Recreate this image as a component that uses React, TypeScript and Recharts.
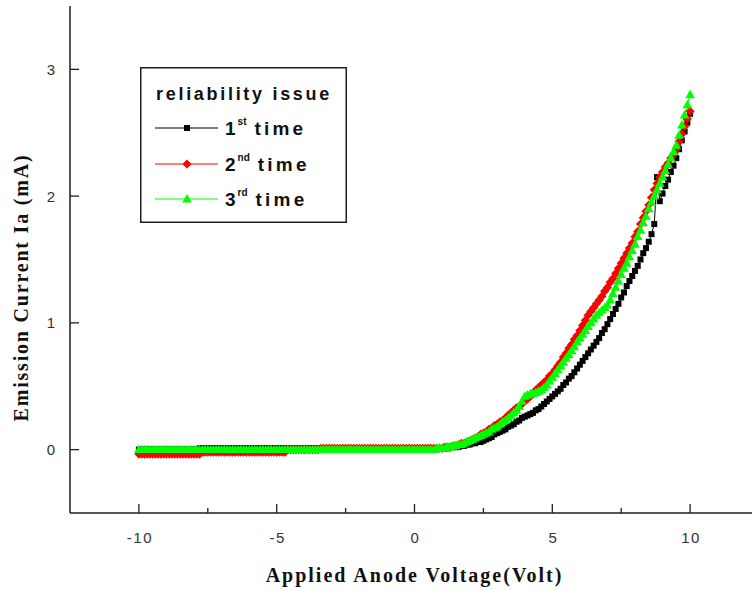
import React from 'react';
import { LineChart, Line, XAxis, YAxis, Legend } from 'recharts';

// Applied anode voltage sweep (V)
const voltage = [
  -10, -9.9, -9.8, -9.7, -9.6, -9.5, -9.4, -9.3, -9.2, -9.1,
  -9, -8.9, -8.8, -8.7, -8.6, -8.5, -8.4, -8.3, -8.2, -8.1,
  -8, -7.9, -7.8, -7.7, -7.6, -7.5, -7.4, -7.3, -7.2, -7.1,
  -7, -6.9, -6.8, -6.7, -6.6, -6.5, -6.4, -6.3, -6.2, -6.1,
  -6, -5.9, -5.8, -5.7, -5.6, -5.5, -5.4, -5.3, -5.2, -5.1,
  -5, -4.9, -4.8, -4.7, -4.6, -4.5, -4.4, -4.3, -4.2, -4.1,
  -4, -3.9, -3.8, -3.7, -3.6, -3.5, -3.4, -3.3, -3.2, -3.1,
  -3, -2.9, -2.8, -2.7, -2.6, -2.5, -2.4, -2.3, -2.2, -2.1,
  -2, -1.9, -1.8, -1.7, -1.6, -1.5, -1.4, -1.3, -1.2, -1.1,
  -1, -0.9, -0.8, -0.7, -0.6, -0.5, -0.4, -0.3, -0.2, -0.1,
  0, 0.1, 0.2, 0.3, 0.4, 0.5, 0.6, 0.7, 0.8, 0.9,
  1, 1.1, 1.2, 1.3, 1.4, 1.5, 1.6, 1.7, 1.8, 1.9,
  2, 2.1, 2.2, 2.3, 2.4, 2.5, 2.6, 2.7, 2.8, 2.9,
  3, 3.1, 3.2, 3.3, 3.4, 3.5, 3.6, 3.7, 3.8, 3.9,
  4, 4.1, 4.2, 4.3, 4.4, 4.5, 4.6, 4.7, 4.8, 4.9,
  5, 5.1, 5.2, 5.3, 5.4, 5.5, 5.6, 5.7, 5.8, 5.9,
  6, 6.1, 6.2, 6.3, 6.4, 6.5, 6.6, 6.7, 6.8, 6.9,
  7, 7.1, 7.2, 7.3, 7.4, 7.5, 7.6, 7.7, 7.8, 7.9,
  8, 8.1, 8.2, 8.3, 8.4, 8.5, 8.6, 8.7, 8.8, 8.9,
  9, 9.1, 9.2, 9.3, 9.4, 9.5, 9.6, 9.7, 9.8, 9.9,
  10,
];

// Emission current Ia (mA), 1st time
const firstTime = [
  0, 0, 0, 0, 0, 0, 0, 0, 0, 0,
  0, 0, 0, 0, 0, 0, 0, 0, 0, 0,
  0, 0, 0.01, 0.01, 0.01, 0.01, 0.01, 0.01, 0.01, 0.01,
  0.01, 0.01, 0.01, 0.01, 0.01, 0.01, 0.01, 0.01, 0.01, 0.01,
  0.01, 0.01, 0.01, 0.01, 0.01, 0.01, 0.01, 0.01, 0.01, 0.01,
  0.01, 0.01, 0.01, 0.01, 0.01, 0.01, 0.01, 0.01, 0.01, 0.01,
  0.01, 0.01, 0.01, 0.01, 0.01, 0.01, 0.01, 0, 0, 0,
  0, 0, 0, 0, 0, 0, 0, 0, 0, 0,
  0, 0, 0, 0, 0, 0, 0, 0, 0, 0,
  0, 0, 0, 0, 0, 0, 0, 0, 0, 0,
  0, 0, 0, 0, 0, 0, 0, 0, 0.01, 0.01,
  0.01, 0.01, 0.01, 0.02, 0.02, 0.02, 0.02, 0.03, 0.03, 0.04,
  0.04, 0.05, 0.05, 0.06, 0.06, 0.07, 0.08, 0.09, 0.1, 0.12,
  0.13, 0.14, 0.15, 0.16, 0.18, 0.19, 0.2, 0.22, 0.23, 0.25,
  0.26, 0.27, 0.28, 0.29, 0.31, 0.32, 0.34, 0.36, 0.38, 0.4,
  0.42, 0.44, 0.46, 0.48, 0.51, 0.53, 0.56, 0.58, 0.61, 0.64,
  0.67, 0.7, 0.73, 0.76, 0.79, 0.82, 0.85, 0.88, 0.92, 0.95,
  0.99, 1.03, 1.07, 1.11, 1.15, 1.2, 1.24, 1.29, 1.33, 1.37,
  1.41, 1.45, 1.5, 1.55, 1.59, 1.64, 1.7, 1.78, 2.15, 1.96,
  2.02, 2.08, 2.13, 2.19, 2.24, 2.3, 2.37, 2.44, 2.51, 2.58,
  2.65,
];

// Emission current Ia (mA), 2nd time
const secondTime = [
  -0.035, -0.035, -0.035, -0.035, -0.035, -0.035, -0.035, -0.035, -0.035, -0.035,
  -0.035, -0.035, -0.035, -0.035, -0.035, -0.035, -0.035, -0.035, -0.035, -0.035,
  -0.035, -0.035, -0.035, -0.02, -0.02, -0.02, -0.02, -0.02, -0.02, -0.02,
  -0.02, -0.02, -0.02, -0.02, -0.02, -0.02, -0.02, -0.02, -0.02, -0.02,
  -0.02, -0.02, -0.02, -0.02, -0.02, -0.02, -0.02, -0.02, -0.02, -0.02,
  -0.02, -0.02, -0.02, -0.02, 0, 0, 0, 0, 0, 0,
  0, 0, 0, 0, 0, 0, 0.01, 0.01, 0.01, 0.01,
  0.01, 0.01, 0.01, 0.01, 0.01, 0.01, 0.01, 0.01, 0.01, 0.01,
  0.01, 0.01, 0.01, 0.01, 0.01, 0.01, 0.01, 0.01, 0.01, 0.01,
  0.01, 0.01, 0.01, 0.01, 0.01, 0.01, 0.01, 0.01, 0.01, 0.01,
  0.01, 0.01, 0.01, 0.01, 0.01, 0.01, 0.01, 0.01, 0.01, 0.01,
  0.01, 0.02, 0.02, 0.02, 0.03, 0.03, 0.04, 0.05, 0.05, 0.06,
  0.07, 0.08, 0.09, 0.1, 0.12, 0.13, 0.14, 0.16, 0.17, 0.19,
  0.2, 0.22, 0.23, 0.25, 0.27, 0.29, 0.31, 0.33, 0.34, 0.36,
  0.38, 0.4, 0.42, 0.44, 0.47, 0.49, 0.51, 0.53, 0.55, 0.58,
  0.6, 0.63, 0.66, 0.69, 0.73, 0.76, 0.8, 0.83, 0.87, 0.9,
  0.94, 0.98, 1.02, 1.06, 1.09, 1.12, 1.15, 1.18, 1.21, 1.25,
  1.28, 1.32, 1.35, 1.39, 1.43, 1.47, 1.51, 1.55, 1.59, 1.63,
  1.68, 1.72, 1.78, 1.83, 1.88, 1.93, 1.99, 2.05, 2.1, 2.15,
  2.19, 2.23, 2.26, 2.3, 2.33, 2.37, 2.43, 2.49, 2.55, 2.61,
  2.67,
];

// Emission current Ia (mA), 3rd time
const thirdTime = [
  0, 0, 0, 0, 0, 0, 0, 0, 0, 0,
  0, 0, 0, 0, 0, 0, 0, 0, 0, 0,
  0, 0, 0, 0, 0, 0, 0, 0, 0, 0,
  0, 0, 0, 0, 0, 0, 0, 0, 0, 0,
  0, 0, 0, 0, 0, 0, 0, 0, 0, 0,
  0, 0, 0, 0, 0, 0, 0, 0, 0, 0,
  0, 0, 0, 0, 0, 0, 0, 0, 0, 0,
  0, 0, 0, 0, 0, 0, 0, 0, 0, 0,
  0, 0, 0, 0, 0, 0, 0, 0, 0, 0,
  0, 0, 0, 0, 0, 0, 0, 0, 0, 0,
  0, 0, 0, 0, 0, 0, 0, 0, 0.01, 0.01,
  0.01, 0.01, 0.02, 0.02, 0.03, 0.03, 0.04, 0.04, 0.05, 0.06,
  0.07, 0.08, 0.09, 0.1, 0.11, 0.12, 0.13, 0.14, 0.16, 0.17,
  0.18, 0.2, 0.22, 0.23, 0.25, 0.27, 0.29, 0.31, 0.34, 0.38,
  0.42, 0.43, 0.44, 0.44, 0.45, 0.46, 0.47, 0.49, 0.51, 0.54,
  0.57, 0.6, 0.63, 0.66, 0.69, 0.72, 0.75, 0.78, 0.81, 0.85,
  0.88, 0.91, 0.94, 0.97, 1.0, 1.03, 1.06, 1.08, 1.1, 1.12,
  1.14, 1.18, 1.23, 1.28, 1.33, 1.38, 1.43, 1.47, 1.52, 1.57,
  1.62, 1.68, 1.73, 1.79, 1.84, 1.9, 1.95, 2.0, 2.05, 2.1,
  2.15, 2.2, 2.25, 2.3, 2.35, 2.4, 2.48, 2.56, 2.64, 2.72,
  2.8,
];

const xTicks = [-10, -7.5, -5, -2.5, 0, 2.5, 5, 7.5, 10];
const xLabelTicks = [-10, -5, 0, 5, 10];
const yTicks = [0, 1, 2, 3];

const legendTitle = 'reliability issue';
const legendBase = ['1', '2', '3'];
const legendSup = ['st', 'nd', 'rd'];
const legendWord = 'time';
const seriesColors = ['#000000', '#ff0000', '#00ff00'];

const data = voltage.map((v, i) => ({
  v,
  s1: firstTime[i],
  s2: secondTime[i],
  s3: thirdTime[i],
}));

const AXIS = '#1e1e1e';
const TICK_FONT = '"Liberation Sans", Arial, sans-serif';
const TITLE_FONT = '"Liberation Serif", "Times New Roman", serif';

const Square = ({ cx, cy, color }: any) => (
  <rect x={cx - 3} y={cy - 3} width={6} height={6} fill={color} />
);
const Diamond = ({ cx, cy, color }: any) => (
  <polygon points={`${cx},${cy - 4.6} ${cx + 4.6},${cy} ${cx},${cy + 4.6} ${cx - 4.6},${cy}`} fill={color} />
);
const Triangle = ({ cx, cy, color }: any) => (
  <polygon points={`${cx},${cy - 5} ${cx + 4.8},${cy + 3.4} ${cx - 4.8},${cy + 3.4}`} fill={color} />
);
const shapes = [Square, Diamond, Triangle];

const makeDot = (idx: number) => (props: any) => {
  const { cx, cy, index } = props;
  if (cx == null || cy == null) return <g key={`d${idx}-${index}`} />;
  const S = shapes[idx];
  return <S key={`d${idx}-${index}`} cx={cx} cy={cy} color={seriesColors[idx]} />;
};

const XTick = (props: any) => {
  const { x, y, payload } = props;
  const major = xLabelTicks.includes(payload.value);
  return (
    <g>
      <line x1={x} x2={x} y1={y} y2={y - (major ? 9 : 5)} stroke={AXIS} strokeWidth={1.3} />
      {major && (
        <text
          x={x + 1}
          y={y + 30}
          textAnchor="middle"
          fontFamily={TICK_FONT}
          fontSize={15}
          letterSpacing={1.5}
          fill="#333"
        >
          {payload.value}
        </text>
      )}
    </g>
  );
};

const YTick = (props: any) => {
  const { x, y, payload } = props;
  return (
    <g>
      <line x1={x} x2={x + 9} y1={y} y2={y} stroke={AXIS} strokeWidth={1.3} />
      <text x={x - 15} y={y + 5.5} textAnchor="end" fontFamily={TICK_FONT} fontSize={15} fill="#333">
        {payload.value}
      </text>
    </g>
  );
};

const XTitle = (props: any) => {
  const vb = props.viewBox || {};
  return (
    <text
      x={vb.x + vb.width / 2}
      y={vb.y + 69}
      textAnchor="middle"
      fontFamily={TITLE_FONT}
      fontWeight="bold"
      fontSize={20}
      letterSpacing={2}
      fill="#111"
    >
      Applied Anode Voltage(Volt)
    </text>
  );
};

const YTitle = (props: any) => {
  const vb = props.viewBox || {};
  const cx = vb.x + 21;
  const cy = vb.y + vb.height / 2 + 28;
  return (
    <text
      x={cx}
      y={cy}
      transform={`rotate(-90 ${cx} ${cy})`}
      textAnchor="middle"
      dominantBaseline="central"
      fontFamily={TITLE_FONT}
      fontWeight="bold"
      fontSize={20}
      letterSpacing={1.8}
      fill="#111"
    >
      Emission Current Ia (mA)
    </text>
  );
};

const LegendBox = () => {
  const rows = [61, 97, 132];
  return (
    <svg width={207} height={156} style={{ display: 'block' }}>
      <rect x={0.75} y={0.75} width={205.5} height={154.5} fill="#fff" stroke={AXIS} strokeWidth={1.5} />
      <text
        x={104}
        y={33}
        textAnchor="middle"
        fontFamily={TICK_FONT}
        fontWeight="bold"
        fontSize={18}
        letterSpacing={2.7}
        fill="#111"
      >
        {legendTitle}
      </text>
      {rows.map((ry, i) => {
        const S = shapes[i];
        return (
          <g key={i}>
            <line x1={15} x2={78} y1={ry} y2={ry} stroke={seriesColors[i]} strokeWidth={1.2} />
            <S cx={47} cy={ry} color={seriesColors[i]} />
            <text x={85} y={ry + 7} fontFamily={TICK_FONT} fontWeight="bold" fontSize={19} fill="#111">
              {legendBase[i]}
              <tspan dy={-10} dx={2} fontSize={10}>{legendSup[i]}</tspan>
              <tspan dy={10} dx={8} letterSpacing={3.2}>{legendWord}</tspan>
            </text>
          </g>
        );
      })}
    </svg>
  );
};

export default function App() {
  return (
    <div
      style={{
        position: 'absolute',
        left: 0,
        top: 0,
        width: 752,
        height: 590,
        overflow: 'hidden',
        background: '#fff',
      }}
    >
      <LineChart width={770} height={590} data={data} margin={{ top: 6, right: 11, bottom: 0, left: 0 }}>
        <XAxis
          xAxisId="b"
          dataKey="v"
          type="number"
          domain={[-12.5, 12.5]}
          ticks={xTicks}
          interval={0}
          allowDataOverflow
          tick={<XTick />}
          tickLine={false}
          tickSize={0}
          tickMargin={0}
          height={77}
          axisLine={{ stroke: AXIS, strokeWidth: 1.5 }}
          label={(p: any) => <XTitle {...p} />}
        />
        <XAxis
          xAxisId="t"
          orientation="top"
          dataKey="v"
          type="number"
          domain={[-12.5, 12.5]}
          allowDataOverflow
          tick={false}
          tickLine={false}
          height={0}
          axisLine={{ stroke: AXIS, strokeWidth: 1.5 }}
        />
        <YAxis
          yAxisId="l"
          type="number"
          domain={[-0.5, 3.5]}
          ticks={yTicks}
          interval={0}
          allowDataOverflow
          tick={<YTick />}
          tickLine={false}
          tickSize={0}
          tickMargin={0}
          width={70}
          axisLine={{ stroke: AXIS, strokeWidth: 1.5 }}
          label={(p: any) => <YTitle {...p} />}
        />
        <YAxis
          yAxisId="r"
          orientation="right"
          type="number"
          domain={[-0.5, 3.5]}
          allowDataOverflow
          tick={false}
          tickLine={false}
          width={0}
          axisLine={{ stroke: AXIS, strokeWidth: 1.5 }}
        />
        <Legend
          verticalAlign="middle"
          align="center"
          layout="horizontal"
          wrapperStyle={{ position: 'absolute', left: 140, top: 67, width: 207, height: 156 }}
          content={() => <LegendBox />}
        />
        {(['s1', 's2', 's3'] as const).map((k, i) => (
          <Line
            key={k}
            xAxisId="b"
            yAxisId="l"
            dataKey={k}
            stroke={seriesColors[i]}
            strokeWidth={1}
            dot={makeDot(i)}
            activeDot={false}
            isAnimationActive={false}
            legendType="none"
          />
        ))}
      </LineChart>
    </div>
  );
}
